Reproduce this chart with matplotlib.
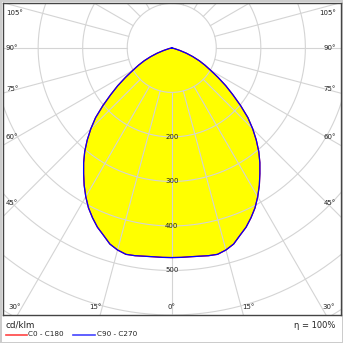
import numpy as np
import matplotlib.pyplot as plt
from matplotlib.lines import Line2D

# luminous intensity (cd/klm) against gamma angle, both planes
gamma = [0, 2.5, 5, 7.5, 10, 12.5, 15, 17.5, 20, 22.5, 25, 27.5, 30, 32.5, 35,
         37.5, 40, 42.5, 45, 47.5, 50, 52.5, 55, 57.5, 60, 62.5, 65, 67.5, 70,
         72.5, 75, 77.5, 80, 85, 90]
c0_c180 = [471, 471, 471, 472, 474, 475, 470, 462, 448, 436, 421, 405, 386, 366,
           345, 325, 304, 281, 257, 232, 202, 173, 148, 123, 101, 84, 68, 51, 35,
           19, 7, 1, 0, 0, 0]
c90_c270 = [471, 471, 471, 472, 474, 475, 470, 462, 448, 436, 421, 405, 386, 366,
            345, 325, 304, 281, 257, 232, 202, 173, 148, 123, 101, 84, 68, 51, 35,
            19, 7, 1, 0, 0, 0]

rings = [100, 200, 300, 400, 500, 600, 700]
ring_labels = [200, 300, 400, 500]
spokes = np.arange(0, 360, 15)

grid_col = '#d4d4d4'
txt_col = '#222222'


def to_xy(g, r):
    # gamma measured from straight down; left half mirrored
    g = np.radians(np.asarray(g, dtype=float))
    r = np.asarray(r, dtype=float)
    return r * np.sin(g), -r * np.cos(g)


def outline(values):
    xr, yr = to_xy(gamma, values)
    x = np.concatenate([-xr[::-1], xr[1:]])
    y = np.concatenate([yr[::-1], yr[1:]])
    return x, y


fig = plt.figure(figsize=(3.43, 3.43), dpi=100)
fig.patch.set_edgecolor('#cccccc')
fig.patch.set_linewidth(1.0)

W = 343.0
ax = fig.add_axes([2.5 / W, (W - 315) / W, 338.5 / W, 312.5 / W])
ax.set_xlim(-380, 380)
ax.set_ylim(-600, 102)
ax.set_xticks([])
ax.set_yticks([])
for s in ax.spines.values():
    s.set_color('#444444')
    s.set_linewidth(1.0)

# yellow area under the grid
x, y = outline(c90_c270)
ax.fill(x, y, color='#ffff00', lw=0, zorder=1)

# polar grid
t = np.linspace(0, 2 * np.pi, 400)
for r in rings:
    ax.plot(r * np.sin(t), r * np.cos(t), color=grid_col, lw=0.8, zorder=2)
for a in spokes:
    xs, ys = to_xy([a, a], [100, 1000])
    ax.plot(xs, ys, color=grid_col, lw=0.8, zorder=2)

x0, y0 = outline(c0_c180)
ax.plot(x0, y0, color='#ff0000', lw=0.9, zorder=3)
ax.plot(x, y, color='#0000ff', lw=0.9, zorder=4)

for r in ring_labels:
    ax.text(0, -r, str(r), ha='center', va='center', fontsize=5,
            color=txt_col, zorder=5)


# angle labels along the frame, positions in pixels
def px(xp, yp):
    return (xp - 2.5) / 338.5, (315 - yp) / 312.5


left_side = [('105°', 12.7), ('90°', 48), ('75°', 89), ('60°', 137), ('45°', 203)]
for lab, yp in left_side:
    ax.text(*px(6, yp), lab, transform=ax.transAxes, ha='left', va='center',
            fontsize=5, color=txt_col)
    ax.text(*px(336, yp), lab, transform=ax.transAxes, ha='right', va='center',
            fontsize=5, color=txt_col)

bottom = [('30°', 8, 'left'), ('15°', 95, 'center'), ('0°', 171.5, 'center'),
          ('15°', 248, 'center'), ('30°', 335, 'right')]
for lab, xp, ha in bottom:
    ax.text(*px(xp, 307), lab, transform=ax.transAxes, ha=ha, va='center',
            fontsize=5, color=txt_col)

# legend below the diagram
fig.text(6 / W, 1 - 325 / W, 'cd/klm', ha='left', va='center', fontsize=6.3,
         color=txt_col)
fig.text(335 / W, 1 - 325 / W, 'η = 100%', ha='right', va='center',
         fontsize=6, color=txt_col)
yl = 1 - 334.5 / W
fig.add_artist(Line2D([6 / W, 27 / W], [yl, yl], color='#ff4444', lw=1.2))
fig.text(28 / W, yl, 'C0 - C180', ha='left', va='center', fontsize=5.2,
         color=txt_col)
fig.add_artist(Line2D([73 / W, 95 / W], [yl, yl], color='#4444ff', lw=1.2))
fig.text(97 / W, yl, 'C90 - C270', ha='left', va='center', fontsize=5.2,
         color=txt_col)

fig.savefig('out.png', dpi=100)
